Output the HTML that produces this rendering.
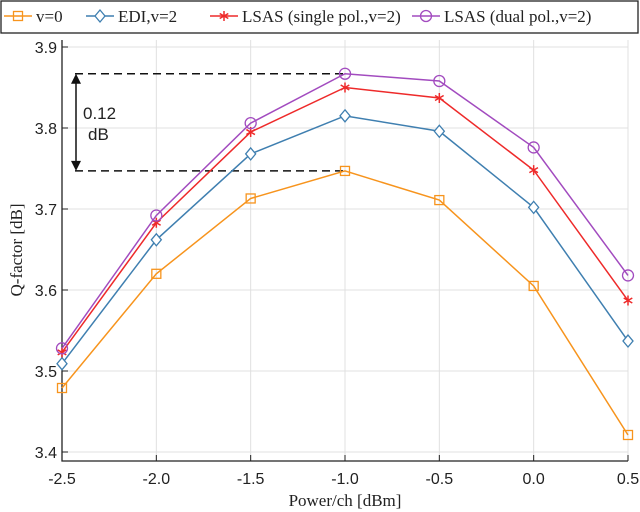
<!DOCTYPE html>
<html><head><meta charset="utf-8"><style>
body{margin:0;background:#fff;width:640px;height:512px;overflow:hidden}
svg{display:block}
.tk{font-family:"Liberation Sans",sans-serif;font-size:16px;fill:#222}
.sf{font-family:"Liberation Serif",serif;font-size:17px;fill:#222}
</style></head><body>
<svg id="c" width="640" height="512"></svg>
<script>
const xCats=[-2.5,-2.0,-1.5,-1.0,-0.5,0.0,0.5];
const xTickLabels=["-2.5","-2.0","-1.5","-1.0","-0.5","0.0","0.5"];
const yTicks=[3.4,3.5,3.6,3.7,3.8,3.9];
const yTickLabels=["3.4","3.5","3.6","3.7","3.8","3.9"];
const v0=[3.479,3.620,3.713,3.747,3.711,3.605,3.421];
const edi=[3.509,3.662,3.768,3.815,3.796,3.702,3.537];
const lsasSingle=[3.523,3.683,3.795,3.850,3.837,3.748,3.587];
const lsasDual=[3.528,3.692,3.806,3.867,3.858,3.776,3.618];
const seriesNames=["v=0","EDI,v=2","LSAS (single pol.,v=2)","LSAS (dual pol.,v=2)"];

const NS="http://www.w3.org/2000/svg";
const svg=document.getElementById('c');
const X0=62,X1=628,Y0=452,Y1=47;
const xs=v=>X0+(v-(-2.5))/3*(X1-X0);
const ys=v=>Y0-(v-3.4)/0.5*(Y0-Y1);
function el(t,a,p){const e=document.createElementNS(NS,t);for(const k in a)e.setAttribute(k,a[k]);(p||svg).appendChild(e);return e;}

xCats.forEach((v,i)=>{const g=el('line',{x1:xs(v),x2:xs(v),y1:40,y2:461,stroke:'#e0e0e0','stroke-width':1});

});
yTicks.forEach(v=>{const g=el('line',{x1:X0,x2:X1,y1:ys(v),y2:ys(v),stroke:'#e0e0e0','stroke-width':1});

});
const ax=el('path',{d:`M${X0} 40 V461 H${X1}`,fill:'none',stroke:'#222','stroke-width':1.3});


xCats.forEach((v,i)=>{el('line',{x1:xs(v),x2:xs(v),y1:461,y2:455,stroke:'#222'});
const t=el('text',{x:xs(v),y:484,'text-anchor':'middle',class:'tk'});t.textContent=xTickLabels[i];

});
yTicks.forEach((v,i)=>{el('line',{x1:X0,x2:X0+6,y1:ys(v),y2:ys(v),stroke:'#222'});
const t=el('text',{x:X0-5,y:ys(v)+6,'text-anchor':'end',class:'tk'});t.textContent=yTickLabels[i];

});
const xl=el('text',{x:345,y:506,'text-anchor':'middle',class:'sf'});xl.textContent='Power/ch [dBm]';


const yl=el('text',{x:0,y:0,'text-anchor':'middle',class:'sf',transform:'translate(22,250) rotate(-90)'});yl.textContent='Q-factor [dB]';



const qTop=lsasDual[3],qBot=v0[3];
[qTop,qBot].forEach(v=>{const d=el('line',{x1:75,x2:xs(-1.0),y1:ys(v),y2:ys(v),stroke:'#111','stroke-width':1.5,'stroke-dasharray':'8,5'});

});
const ar=el('g',{});


el('line',{x1:76,x2:76,y1:ys(qTop)+8,y2:ys(qBot)-8,stroke:'#111','stroke-width':1.5},ar);
el('path',{d:`M71 ${ys(qTop)+10} L76 ${ys(qTop)} L81 ${ys(qTop)+10}Z`,fill:'#111'},ar);
el('path',{d:`M71 ${ys(qBot)-10} L76 ${ys(qBot)} L81 ${ys(qBot)-10}Z`,fill:'#111'},ar);
const a1=el('text',{x:83,y:119,class:'tk',style:'font-size:17px'});a1.textContent='0.12';


const a2=el('text',{x:88,y:140,class:'tk',style:'font-size:17px'});a2.textContent='dB';



const colors=['#f7941d','#3f7fb0','#ee2a2a','#a24bbf'];
const data=[v0,edi,lsasSingle,lsasDual];
function marker(k,x,y,c,p){
 if(k==0)return el('rect',{x:x-4.5,y:y-4.5,width:9,height:9,fill:'none',stroke:c,'stroke-width':1.3},p);
 if(k==1)return el('path',{d:`M${x} ${y-6}L${x+5} ${y}L${x} ${y+6}L${x-5} ${y}Z`,fill:'#fff',stroke:c,'stroke-width':1.3},p);
 if(k==2)return el('path',{d:`M${x} ${y-5}V${y+5}M${x-4.3} ${y-2.5}L${x+4.3} ${y+2.5}M${x-4.3} ${y+2.5}L${x+4.3} ${y-2.5}`,stroke:c,'stroke-width':1.5},p);
 return el('circle',{cx:x,cy:y,r:5.5,fill:'none',stroke:c,'stroke-width':1.3},p);
}
data.forEach((s,k)=>{
 const g=el('g',{});
 
 
 el('polyline',{points:s.map((v,i)=>xs(xCats[i])+','+ys(v)).join(' '),fill:'none',stroke:colors[k],'stroke-width':1.5},g);
 s.forEach((v,i)=>{const m=marker(k,xs(xCats[i]),ys(v),colors[k],g);
 
 });
});

const lg=el('g',{});


el('rect',{x:1,y:1,width:637,height:32,fill:'#fff',stroke:'#222','stroke-width':1.3},lg);
const lx=[4,86,210,412];
seriesNames.forEach((n,k)=>{
 const e=el('g',{},lg);
 
 
 el('line',{x1:lx[k],x2:lx[k]+28,y1:16,y2:16,stroke:colors[k],'stroke-width':1.5},e);
 marker(k,lx[k]+14,16,colors[k],e);
 const t=el('text',{x:lx[k]+32,y:22,class:'sf',style:'font-size:17px'},e);t.textContent=n;
});
</script>
</body></html>
